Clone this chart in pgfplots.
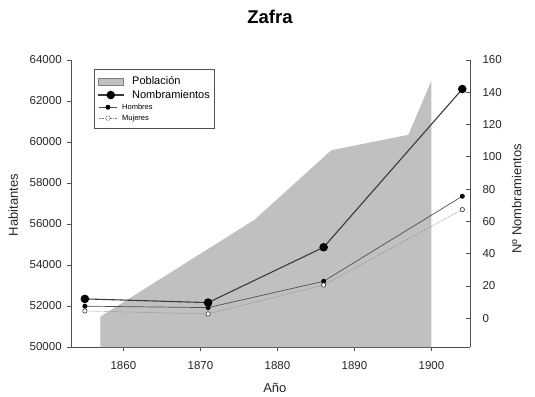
\documentclass[border=0pt]{standalone}
\usepackage{fontspec}
\setmainfont{Liberation Sans}
\usepackage{pgfplots}
\pgfplotsset{compat=1.18}
\definecolor{areagray}{HTML}{C0C0C0}
\definecolor{axgray}{HTML}{505050}
\definecolor{linegray}{HTML}{3A3A3A}
\begin{document}
\begin{tikzpicture}[x=1pt,y=1pt]
\path[use as bounding box] (0,0) rectangle (535,396);
\pgfplotsset{
  common/.style={scale only axis, width=399pt, height=287pt, at={(71pt,49pt)}, anchor=south west,
    xmin=1853.2, xmax=1905,
    /pgf/number format/1000 sep={}, /pgf/number format/assume math mode=true,
    scaled ticks=false,
    axis line style={-, axgray, line width=0.9pt},
    tick style={axgray, line width=0.8pt},
    major tick length=4.3pt,
    ticklabel style={font=\fontsize{11.5}{13}\selectfont, text=black!85},
    label style={font=\fontsize{13}{15}\selectfont, text=black!85},
  }
}
\begin{axis}[common,
  axis x line*=bottom, axis y line*=left,
  ymin=50000, ymax=64000,
  ytick={50000,52000,...,64000},
  xtick={1860,1870,1880,1890,1900},
  tick align=outside,
  xticklabel style={yshift=-7pt},
  yticklabel style={xshift=-1.5pt},
  title={Zafra},
  title style={font=\bfseries\fontsize{18.5}{20}\selectfont, at={(axis description cs:0.4987,1.130)}, anchor=center, yshift=0pt},
  xlabel={Año},
  xlabel style={at={(axis description cs:0.511,-0.142)}, anchor=center},
  ylabel={Habitantes},
  ylabel style={at={(axis description cs:-0.1446,0.495)}, anchor=center},
]
\addplot[fill=areagray, draw=none] coordinates {
  (1857,51480) (1877,56200) (1887,59600) (1897,60350) (1900,63000)
} \closedcycle;
\end{axis}
\begin{axis}[common,
  axis x line=none, axis y line*=right,
  ymin=-17.8, ymax=160,
  ytick={0,20,...,160},
  tick align=inside,
  yticklabel style={xshift=9pt},
  ylabel={N\textordmasculine\ Nombramientos},
  ylabel style={at={(axis description cs:1.117,0.516)}, anchor=center},
  legend style={at={(0.0576,0.9676)}, anchor=north west, draw=axgray, line width=0.8pt,
    inner xsep=3pt, inner ysep=5pt, row sep=0pt, cells={anchor=west}},
]
\addlegendimage{legend image code/.code={\draw[fill=areagray, draw=gray, line width=0.6pt] (0pt,-3.6pt) rectangle (25.7pt,3.6pt);}}
\addlegendentry{\hspace*{6pt}\fontsize{11}{12}\selectfont Población}
\addplot[linegray, line width=1.1pt, mark=*, mark size=3.7pt, mark options={fill=black, draw=black, solid},
  legend image code/.code={\draw[linegray, line width=1.1pt] (0pt,0pt) -- (25.7pt,0pt); \fill[black] (12.85pt,0pt) circle (3.7pt);}]
  coordinates {(1855,12.0) (1871,9.7) (1886,44.0) (1904,142.0)};
\addlegendentry{\hspace*{6pt}\fontsize{11}{12}\selectfont Nombramientos}
\addplot[axgray, line width=0.7pt, mark=*, mark size=2.1pt, mark options={fill=black, draw=black, solid},
  legend image code/.code={\draw[axgray, line width=0.7pt] (0.7pt,0pt) -- (19.3pt,0pt); \fill[black] (10pt,0pt) circle (2.1pt);}]
  coordinates {(1855,7.5) (1871,6.6) (1886,22.9) (1904,75.6)};
\addlegendentry{\hspace*{-4pt}\fontsize{7.5}{8}\selectfont Hombres}
\addplot[gray, line width=0.6pt, densely dotted, mark=*, mark size=2.2pt, mark options={fill=white, draw=black!80, solid, line width=0.6pt},
  legend image code/.code={\draw[gray, line width=0.6pt, densely dotted] (0.7pt,0pt) -- (19.3pt,0pt); \draw[fill=white, draw=black!80, line width=0.6pt] (10pt,0pt) circle (2.2pt);}]
  coordinates {(1855,4.5) (1871,2.7) (1886,20.6) (1904,67.3)};
\addlegendentry{\hspace*{-4pt}\fontsize{7.5}{8}\selectfont Mujeres}
\end{axis}
\end{tikzpicture}
\end{document}
